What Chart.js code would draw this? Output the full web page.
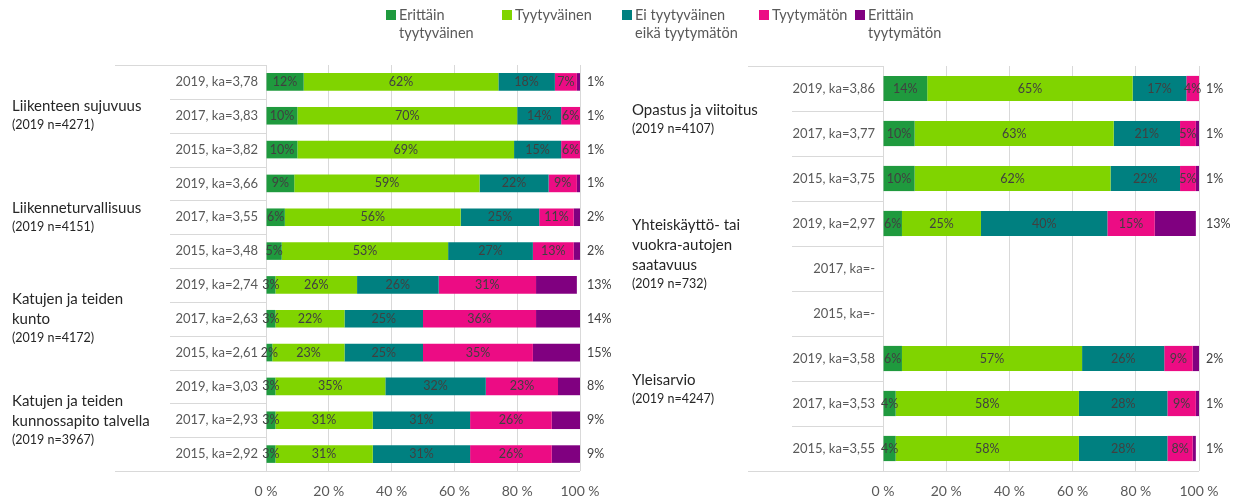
<!DOCTYPE html>
<html>
<head>
<meta charset="utf-8">
<script src="https://cdn.jsdelivr.net/npm/chart.js@4.4.1/dist/chart.umd.min.js"></script>
<style>
  body { margin: 0; background: #fff; font-family: Lato, sans-serif; }
  #wrap { position: relative; width: 1237px; height: 501px; overflow: hidden; }
  .box { position: absolute; top: 0; width: 617px; height: 501px; }
  #legend { position: absolute; top: 0; left: 0; width: 1237px; height: 48px; z-index: 2; }
  .item { position: absolute; top: 6px; font-size: 14.5px; line-height: 18px; color: #595959; white-space: nowrap; }
  .item i { position: absolute; left: 0; top: 4px; width: 10px; height: 10px; }
  .item span { display: block; padding-left: 13px; }
</style>
</head>
<body>
<div id="wrap">
  <div id="legend"></div>
  <div class="box" style="left:0"><canvas id="chartLeft"></canvas></div>
  <div class="box" style="left:620px"><canvas id="chartRight"></canvas></div>
</div>
<script>
// series + ticks
const seriesNames = ['Erittäin tyytyväinen', 'Tyytyväinen', 'Ei tyytyväinen eikä tyytymätön', 'Tyytymätön', 'Erittäin tyytymätön'];
const legendLines = [['Erittäin', 'tyytyväinen'], ['Tyytyväinen'], ['Ei tyytyväinen', 'eikä tyytymätön'], ['Tyytymätön'], ['Erittäin', 'tyytymätön']];
const xTicks = [0, 20, 40, 60, 80, 100];

// left panel
const leftRows = ['2019, ka=3,78', '2017, ka=3,83', '2015, ka=3,82',
                  '2019, ka=3,66', '2017, ka=3,55', '2015, ka=3,48',
                  '2019, ka=2,74', '2017, ka=2,63', '2015, ka=2,61',
                  '2019, ka=3,03', '2017, ka=2,93', '2015, ka=2,92'];
const leftGroups = [['Liikenteen sujuvuus'], ['Liikenneturvallisuus'], ['Katujen ja teiden', 'kunto'], ['Katujen ja teiden', 'kunnossapito talvella']];
const leftNotes = ['(2019 n=4271)', '(2019 n=4151)', '(2019 n=4172)', '(2019 n=3967)'];
const leftGroupSizes = [3, 3, 3, 3];
const leftVerySatisfied = [12, 10, 10, 9, 6, 5, 3, 3, 2, 3, 3, 3];
const leftSatisfied     = [62, 70, 69, 59, 56, 53, 26, 22, 23, 35, 31, 31];
const leftNeutral       = [18, 14, 15, 22, 25, 27, 26, 25, 25, 32, 31, 31];
const leftDissatisfied  = [7, 6, 6, 9, 11, 13, 31, 36, 35, 23, 26, 26];
const leftVeryDissat    = [1, 1, 1, 1, 2, 2, 13, 14, 15, 8, 9, 9];

// right panel
const rightRows = ['2019, ka=3,86', '2017, ka=3,77', '2015, ka=3,75',
                   '2019, ka=2,97', '2017, ka=-', '2015, ka=-',
                   '2019, ka=3,58', '2017, ka=3,53', '2015, ka=3,55'];
const rightGroups = [['Opastus ja viitoitus'], ['Yhteiskäyttö- tai', 'vuokra-autojen', 'saatavuus'], ['Yleisarvio']];
const rightNotes = ['(2019 n=4107)', '(2019 n=732)', '(2019 n=4247)'];
const rightGroupSizes = [3, 3, 3];
const rightVerySatisfied = [14, 10, 10, 6, null, null, 6, 4, 4];
const rightSatisfied     = [65, 63, 62, 25, null, null, 57, 58, 58];
const rightNeutral       = [17, 21, 22, 40, null, null, 26, 28, 28];
const rightDissatisfied  = [4, 5, 5, 15, null, null, 9, 9, 8];
const rightVeryDissat    = [1, 1, 1, 13, null, null, 2, 1, 1];

const colors = ['#1f9a3e', '#80d400', '#008080', '#ec0c84', '#800080'];
const legendX = [386, 502, 622, 759, 855];

// legend (html)
const legendEl = document.getElementById('legend');
legendLines.forEach((lines, i) => {
    const d = document.createElement('div');
    d.className = 'item';
    d.style.left = legendX[i] + 'px';
    d.innerHTML = '<i style="background:' + colors[i] + '"></i>' + lines.map(t => '<span>' + t + '</span>').join('');
    legendEl.appendChild(d);
});

// value labels, category separators, group labels
const decor = {
    id: 'decor',
    afterDatasetsDraw(chart, args, o) {
        const { ctx, chartArea: a, scales: { y } } = chart;
        ctx.save();
        ctx.font = '12.5px Lato';
        ctx.fillStyle = '#404040';
        ctx.textBaseline = 'middle';
        const nSets = chart.data.datasets.length;
        chart.data.datasets.forEach((ds, di) => {
            chart.getDatasetMeta(di).data.forEach((bar, i) => {
                const v = ds.data[i];
                if (v == null) return;
                if (di === nSets - 1) {
                    ctx.textAlign = 'left';
                    ctx.fillText(v + '%', a.right + 7, bar.y);
                } else {
                    ctx.textAlign = 'center';
                    ctx.fillText(v + '%', (bar.x + bar.base) / 2, bar.y);
                }
            });
        });

        ctx.strokeStyle = '#d9d9d9';
        ctx.lineWidth = 1;
        const n = chart.data.labels.length;
        for (let k = 0; k <= n; k++) {
            const yy = Math.round(y.getPixelForValue(k - 0.5)) + 0.5;
            const x0 = (k === 0 || k === n) ? o.outerX : o.innerX;
            const x1 = k === n ? a.right : a.left;
            ctx.beginPath();
            ctx.moveTo(x0, yy);
            ctx.lineTo(x1, yy);
            ctx.stroke();
        }

        let start = 0;
        ctx.textAlign = 'left';
        ctx.fillStyle = '#262626';
        o.groups.forEach((g, gi) => {
            const top = y.getPixelForValue(start - 0.5);
            const bot = y.getPixelForValue(start + o.sizes[gi] - 0.5);
            const h = (g.length - 1) * 20 + 19;
            const y0 = (top + bot) / 2 - h / 2 + o.shift;
            ctx.font = '15px Lato';
            g.forEach((t, li) => ctx.fillText(t, 12, y0 + li * 20));
            ctx.font = '12.5px Lato';
            ctx.fillText(o.notes[gi], 12, y0 + (g.length - 1) * 20 + 19);
            start += o.sizes[gi];
        });
        ctx.restore();
    }
};

function makeChart(id, rows, values, opt) {
    new Chart(document.getElementById(id), {
        type: 'bar',
        data: {
            labels: rows,
            datasets: values.map((v, i) => ({
                label: seriesNames[i],
                data: v,
                backgroundColor: colors[i],
                barPercentage: opt.bar,
                categoryPercentage: 1
            }))
        },
        options: {
            indexAxis: 'y',
            responsive: true,
            maintainAspectRatio: false,
            animation: false,
            layout: { padding: { top: opt.top, right: opt.right, left: 0, bottom: 0 } },
            plugins: {
                legend: { display: false },
                tooltip: { enabled: false },
                decor: opt.decor
            },
            scales: {
                x: {
                    stacked: true, min: 0, max: 100,
                    afterBuildTicks: s => { s.ticks = xTicks.map(v => ({ value: v })); },
                    ticks: { callback: v => v + ' %', color: '#595959', font: { family: 'Lato', size: 14 }, padding: 12, maxRotation: 0 },
                    grid: { color: '#d9d9d9', drawTicks: false },
                    border: { display: false },
                    afterFit: s => { s.height = 30; }
                },
                y: {
                    stacked: true,
                    ticks: { color: '#595959', font: { family: 'Lato', size: 13 }, padding: 8 },
                    grid: { display: false, drawTicks: false },
                    border: { display: false },
                    afterFit: s => { s.width = opt.axisW; }
                }
            }
        },
        plugins: [decor]
    });
}

makeChart('chartLeft', leftRows,
    [leftVerySatisfied, leftSatisfied, leftNeutral, leftDissatisfied, leftVeryDissat],
    { bar: 0.52, top: 65, right: 37, axisW: 266,
      decor: { groups: leftGroups, notes: leftNotes, sizes: leftGroupSizes, outerX: 115, innerX: 170, shift: 0 } });

makeChart('chartRight', rightRows,
    [rightVerySatisfied, rightSatisfied, rightNeutral, rightDissatisfied, rightVeryDissat],
    { bar: 0.56, top: 66, right: 38, axisW: 263,
      decor: { groups: rightGroups, notes: rightNotes, sizes: rightGroupSizes, outerX: 128, innerX: 172, shift: -14 } });
</script>
</body>
</html>
